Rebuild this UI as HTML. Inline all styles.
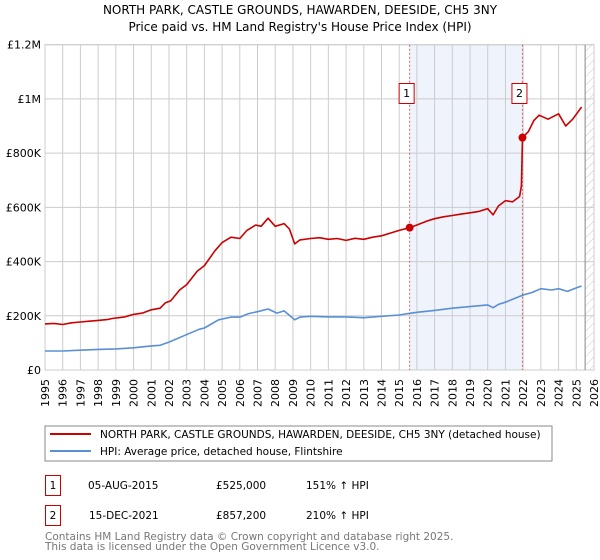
<!DOCTYPE html>
<html><head><meta charset="utf-8">
<style>
body{margin:0;background:#fff;font-family:"DejaVu Sans","Liberation Sans",sans-serif;}
#wrap{position:relative;width:600px;height:560px;overflow:hidden;}
svg text{font-family:"DejaVu Sans","Liberation Sans",sans-serif;}
</style></head>
<body>
<div id="wrap">
<svg id="chart" width="600" height="560" xmlns="http://www.w3.org/2000/svg">
  <defs>
    <pattern id="hatch" patternUnits="userSpaceOnUse" width="6" height="6" patternTransform="rotate(45)">
      <line x1="0" y1="0" x2="0" y2="6" stroke="#c8c8c8" stroke-width="1"/>
    </pattern>
  </defs>
  <text x="300" y="14" text-anchor="middle" font-size="12" fill="#000">NORTH PARK, CASTLE GROUNDS, HAWARDEN, DEESIDE, CH5 3NY</text>
  <text x="300" y="31" text-anchor="middle" font-size="12" fill="#000">Price paid vs. HM Land Registry's House Price Index (HPI)</text>
  <g id="plot"></g>
  <rect x="45" y="426" width="507" height="35" fill="#fff" stroke="#888" stroke-width="1"/>
  <line x1="50" y1="434" x2="91" y2="434" stroke="#cc0000" stroke-width="2"/>
  <text x="100" y="438" font-size="10.5">NORTH PARK, CASTLE GROUNDS, HAWARDEN, DEESIDE, CH5 3NY (detached house)</text>
  <line x1="50" y1="451" x2="91" y2="451" stroke="#5b8fd4" stroke-width="2"/>
  <text x="100" y="455" font-size="10.5">HPI: Average price, detached house, Flintshire</text>

  <rect x="45.5" y="475.5" width="15" height="20" fill="#fff" stroke="#cc0000"/>
  <text x="53" y="489" text-anchor="middle" font-size="10.5">1</text>
  <text x="88" y="489" font-size="10.5">05-AUG-2015</text>
  <text x="216" y="489" font-size="10.5">£525,000</text>
  <text x="306" y="489" font-size="10.5">151% ↑ HPI</text>
  <rect x="45.5" y="505.5" width="15" height="20" fill="#fff" stroke="#cc0000"/>
  <text x="53" y="519" text-anchor="middle" font-size="10.5">2</text>
  <text x="89" y="519" font-size="10.5">15-DEC-2021</text>
  <text x="216" y="519" font-size="10.5">£857,200</text>
  <text x="306" y="519" font-size="10.5">210% ↑ HPI</text>
  <text x="45" y="540" font-size="10.5" fill="#777">Contains HM Land Registry data © Crown copyright and database right 2025.</text>
  <text x="45" y="550" font-size="10.5" fill="#777">This data is licensed under the Open Government Licence v3.0.</text>
</svg>
</div>
<script>
const yTickValues = [0, 200000, 400000, 600000, 800000, 1000000, 1200000];
const yTickLabels = ["£0", "£200K", "£400K", "£600K", "£800K", "£1M", "£1.2M"];
const xTickYears = [1995,1996,1997,1998,1999,2000,2001,2002,2003,2004,2005,2006,2007,2008,2009,2010,2011,2012,2013,2014,2015,2016,2017,2018,2019,2020,2021,2022,2023,2024,2025,2026];
const propYears = [1995,1995.5,1996,1996.5,1997,1997.5,1998,1998.5,1998.8,1999.5,2000,2000.5,2001,2001.5,2001.8,2002.1,2002.6,2003,2003.6,2004,2004.6,2005,2005.5,2006,2006.4,2006.9,2007.2,2007.6,2008,2008.5,2008.8,2009.1,2009.4,2010,2010.5,2011,2011.5,2012,2012.5,2013,2013.5,2014,2014.5,2015,2015.59,2016,2016.6,2017,2017.5,2018,2018.5,2019,2019.5,2020,2020.3,2020.6,2021,2021.4,2021.8,2021.9,2021.96,2022.3,2022.6,2022.9,2023.4,2024,2024.4,2024.8,2025.3];
const propValues = [170,172,168,174,177,180,183,186,190,196,205,210,222,228,248,255,295,315,365,385,440,470,490,485,515,535,530,560,530,540,520,465,480,485,488,482,485,478,486,482,490,495,505,515,525,535,550,558,565,570,575,580,585,595,572,605,625,620,640,680,857,880,920,940,925,945,900,925,970];
const hpiYears = [1995,1996,1997,1998,1999,2000,2001,2001.5,2002,2002.9,2003.7,2004,2004.8,2005.5,2006,2006.5,2007,2007.6,2008.1,2008.5,2009.1,2009.4,2010,2011,2012,2013,2014,2015,2015.6,2016,2017,2018,2019,2020,2020.3,2020.6,2021,2021.96,2022.5,2023,2023.6,2024,2024.5,2025,2025.3];
const hpiValues = [70,70,73,76,78,82,89,91,103,128,150,155,185,195,195,208,215,225,210,218,185,195,198,196,196,193,198,203,209,213,220,228,234,240,230,242,250,276,286,300,295,300,290,303,310];
const saleYears = [2015.59, 2021.96];
const saleValues = [525000, 857200];
const saleLabels = ["1", "2"];

const X0=45, X1=594, Y0=370, Y1=44.7;
function xs(yr){ return X0 + (yr-1995)*(X1-X0)/31; }
function ys(v){ return Y0 - v*(Y0-Y1)/1200000; }
const NS="http://www.w3.org/2000/svg";
const plot=document.getElementById('plot');
function mk(tag, attrs){ const e=document.createElementNS(NS,tag); for(const k in attrs) e.setAttribute(k,attrs[k]); plot.appendChild(e); return e; }

let bg=mk('rect',{x:X0,y:Y1,width:X1-X0,height:Y0-Y1,fill:'#fff'});


let band=mk('rect',{x:xs(saleYears[0]),y:Y1,width:xs(saleYears[1])-xs(saleYears[0]),height:Y0-Y1,fill:'#eef3fc'});


let hatch=mk('rect',{x:xs(2025.5),y:Y1,width:X1-xs(2025.5),height:Y0-Y1,fill:'url(#hatch)'});



xTickYears.forEach(function(yr){
  const x=xs(yr);
  const l=mk('line',{x1:x,y1:Y1,x2:x,y2:Y0,stroke:'#cccccc','stroke-width':1});
  
  
  const t=mk('text',{x:0,y:0,'font-size':11,transform:'translate('+(x+4)+','+(Y0+37)+') rotate(-90)'});
  t.textContent=String(yr);
  
  
});
yTickValues.forEach(function(v,i){
  const y=ys(v);
  const l=mk('line',{x1:X0,y1:y,x2:X1,y2:y,stroke:'#cccccc','stroke-width':1});
  
  
  const t=mk('text',{x:X0-4,y:y+4,'font-size':11,'text-anchor':'end'});
  t.textContent=yTickLabels[i];
  
  
});
let border=mk('rect',{x:X0,y:Y1,width:X1-X0,height:Y0-Y1,fill:'none',stroke:'#cccccc'});


let cut=mk('line',{x1:xs(2025.5),y1:Y1,x2:xs(2025.5),y2:Y0,stroke:'#999','stroke-width':1.2});



saleYears.forEach(function(yr,i){
  const x=xs(yr);
  const l=mk('line',{x1:x,y1:Y1,x2:x,y2:Y0,stroke:'#e06060','stroke-width':1,'stroke-dasharray':'2,2'});
  
  
});

function pathFrom(xa,va,mult){ return xa.map(function(yr,i){ return (i?'L':'M')+xs(yr).toFixed(1)+','+ys(va[i]*mult).toFixed(1); }).join(''); }
let hpi=mk('path',{d:pathFrom(hpiYears,hpiValues,1000),fill:'none',stroke:'#5b8fd4','stroke-width':1.6,'stroke-linejoin':'round'});


let prop=mk('path',{d:pathFrom(propYears,propValues,1000),fill:'none',stroke:'#cc0000','stroke-width':1.6,'stroke-linejoin':'round'});



saleYears.forEach(function(yr,i){
  const x=xs(yr);
  const c=mk('circle',{cx:x,cy:ys(saleValues[i]),r:4,fill:'#cc0000'});
  
  
  const b=mk('rect',{x:x-10.5,y:83.5,width:15,height:20,fill:'#fff',stroke:'#cc0000'});
  
  
  const t=mk('text',{x:x-3,y:97,'font-size':11,'text-anchor':'middle'});
  t.textContent=saleLabels[i];
  
  
});
</script>
</body></html>
